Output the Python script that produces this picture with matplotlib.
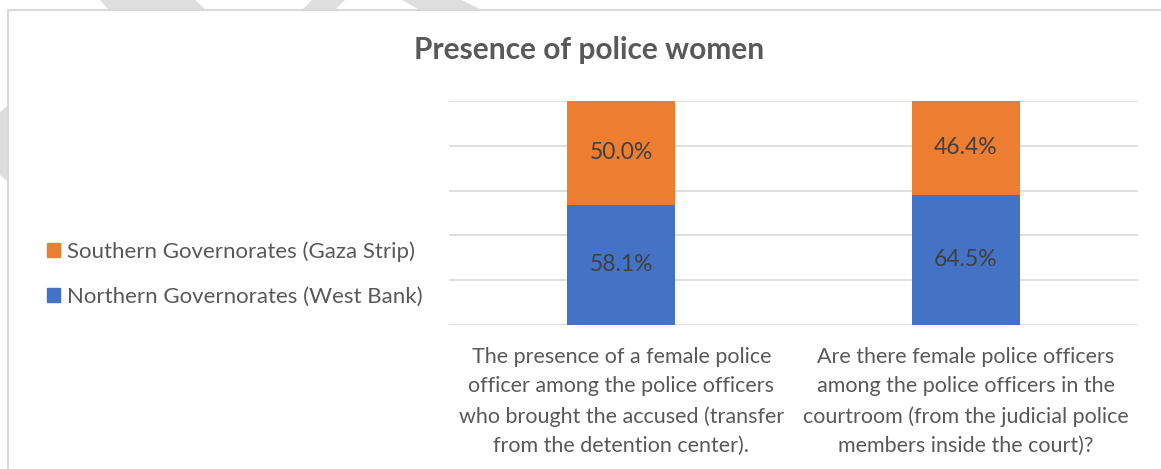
import matplotlib

matplotlib.use("Agg")

import matplotlib.pyplot as plt
from matplotlib.patches import Patch, Polygon, Rectangle

plt.rcParams["font.family"] = ["Lato", "DejaVu Sans"]

# Share of each group (percent); columns are drawn as a 100% stack
categories = [
    "The presence of a female police\nofficer among the police officers\n"
    "who brought the accused (transfer\nfrom the detention center).",
    "Are there female police officers\namong the police officers in the\n"
    "courtroom (from the judicial police\nmembers inside the court)?",
]
north = [58.1, 64.5]
south = [50.0, 46.4]
series_names = ["Northern Governorates (West Bank)", "Southern Governorates (Gaza Strip)"]

BLUE = "#4472c4"
ORANGE = "#ed7d31"
GRID = "#d9d9d9"
TEXT = "#595959"
LABEL = "#404040"

W, H = 1161, 469
fig = plt.figure(figsize=(W / 100, H / 100), dpi=100)


def px(x, y):
    return x / W, 1 - y / H


# faint page decoration behind the chart frame
deco = [
    [(100, 0), (195, 0), (205, 9), (108, 9)],
    [(312, 0), (345, 0), (336, 9), (303, 9)],
    [(402, 0), (462, 0), (480, 9), (418, 9)],
    [(0, 112), (8, 105), (8, 182), (0, 175)],
]
for pts in deco:
    fig.patches.append(Polygon([px(*p) for p in pts], closed=True, transform=fig.transFigure,
                               facecolor="#dedede", edgecolor="none", zorder=0))

# chart frame (runs off the right and bottom edges)
x0, y0 = px(8, 10)
fig.patches.append(Rectangle((x0, -0.05), 1.1, y0 + 0.05, transform=fig.transFigure,
                             fill=False, edgecolor=GRID, linewidth=1.5, zorder=0))

ax = fig.add_axes([449 / W, 1 - 325 / H, (1138 - 449) / W, (325 - 101) / H])

tot = [a + b for a, b in zip(north, south)]
n_frac = [a / t * 100 for a, t in zip(north, tot)]
s_frac = [b / t * 100 for b, t in zip(south, tot)]
xs = range(len(categories))
width = 0.313

bn = ax.bar(xs, n_frac, width, color=BLUE, zorder=3)
bs = ax.bar(xs, s_frac, width, bottom=n_frac, color=ORANGE, zorder=3)
for bars, vals in ((bn, north), (bs, south)):
    for rect, v in zip(bars, vals):
        ax.text(rect.get_x() + rect.get_width() / 2, rect.get_y() + rect.get_height() / 2,
                f"{v:.1f}%", ha="center", va="center", fontsize=16.5, color=LABEL, zorder=4)

ax.set_xlim(-0.5, 1.5)
ax.set_ylim(0, 100)
ax.set_yticks(range(0, 101, 20))
ax.yaxis.grid(True, color=GRID, linewidth=1.2)
ax.set_axisbelow(True)
ax.tick_params(axis="y", left=False, labelleft=False)
ax.tick_params(axis="x", bottom=False, pad=12)
ax.set_xticks(list(xs))
ax.set_xticklabels(categories, fontsize=15.5, color=TEXT, linespacing=1.6)
for s in ax.spines.values():
    s.set_visible(False)

fig.text(589 / W, 1 - 50 / H, "Presence of police women", ha="center", va="center",
         fontsize=21.5, fontweight="bold", color=TEXT)

handles = [Patch(color=ORANGE), Patch(color=BLUE)]
fig.legend(handles, series_names[::-1], loc="center left", bbox_to_anchor=(27 / W, 1 - 274 / H),
           frameon=False, fontsize=16, labelcolor=TEXT, handlelength=0.6, handleheight=0.6,
           handletextpad=0.3, labelspacing=1.1)

fig.savefig("out.png", dpi=100)
